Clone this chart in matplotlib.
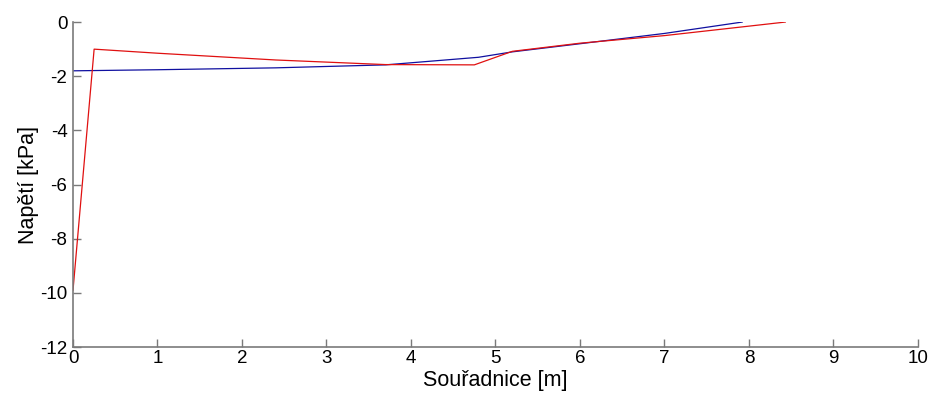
import matplotlib
matplotlib.use('Agg')
import matplotlib.pyplot as plt

# hodnoty
x_blue = [0.0, 1.0, 2.4, 3.7, 4.8, 5.2, 6.0, 7.0, 7.92]
y_blue = [-1.8, -1.76, -1.69, -1.58, -1.3, -1.1, -0.8, -0.42, 0.0]

x_red = [0.0, 0.25, 1.0, 2.4, 3.7, 4.75, 5.2, 6.0, 7.0, 8.43]
y_red = [-9.9, -1.0, -1.15, -1.4, -1.57, -1.58, -1.08, -0.78, -0.5, 0.0]

xticks = list(range(0, 11))
yticks = [0, -2, -4, -6, -8, -10, -12]

plt.rcParams['font.family'] = ['Liberation Sans', 'DejaVu Sans']
plt.rcParams['axes.unicode_minus'] = False

fig = plt.figure(figsize=(9.3, 3.94), dpi=100)
ax = fig.add_axes([0.0785, 0.119, 0.9085, 0.825])

ax.plot(x_blue, y_blue, color='#1010a0', linewidth=0.9)
ax.plot(x_red, y_red, color='#e01010', linewidth=0.9)

ax.set_xlim(0, 10)
ax.set_ylim(-12, 0)
ax.set_xticks(xticks)
ax.set_yticks(yticks)

for s in ['top', 'right']:
    ax.spines[s].set_visible(False)
for s in ['left', 'bottom']:
    ax.spines[s].set_color('#7a7a7a')
    ax.spines[s].set_linewidth(1.2)

ax.tick_params(direction='in', length=6, width=1, color='#7a7a7a',
               labelsize=13.5, labelcolor='black', pad=2)
ax.tick_params(axis='y', pad=4)

ax.set_xlabel('Souřadnice [m]', fontsize=15.5, labelpad=2)
ax.set_ylabel('Napětí [kPa]', fontsize=15.5, labelpad=1)

fig.savefig('out.png', dpi=100)
